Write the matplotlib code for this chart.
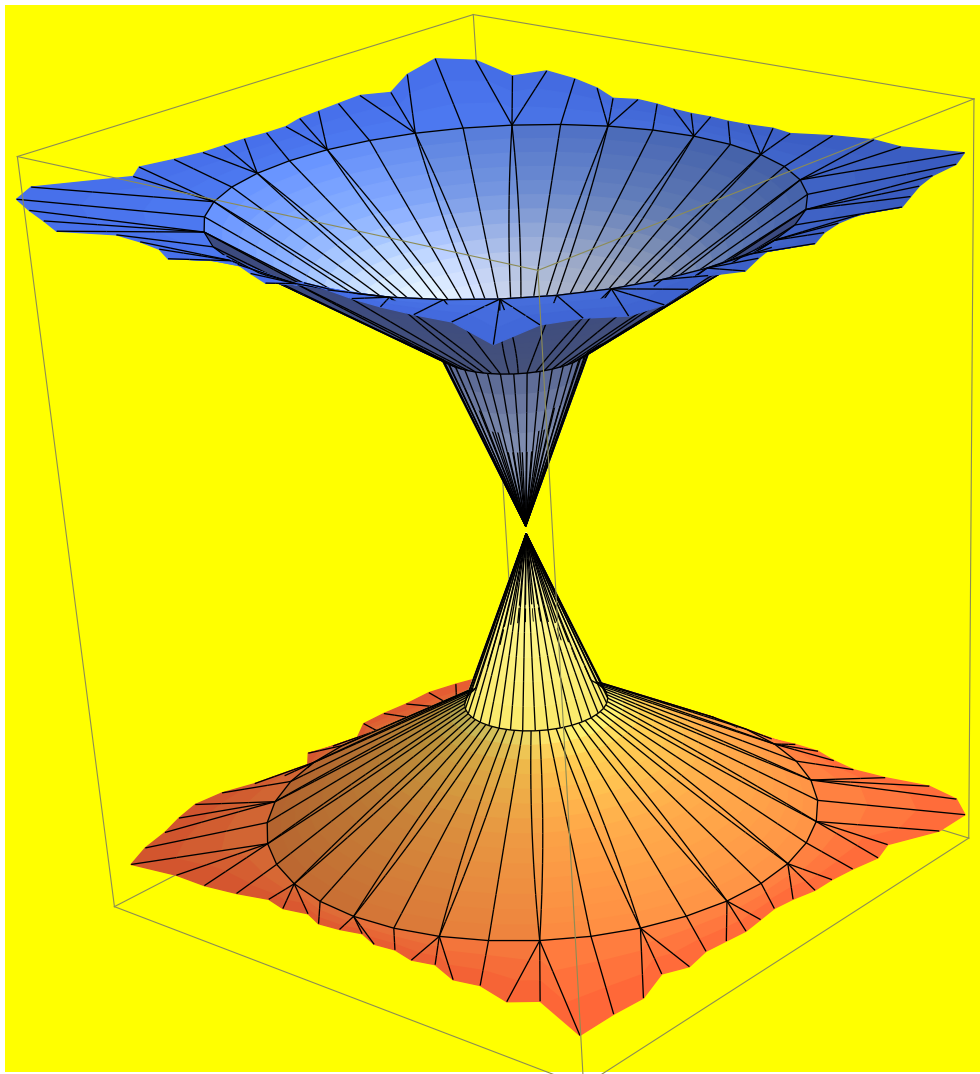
import numpy as np
import matplotlib
matplotlib.use('Agg')
from matplotlib import pyplot as plt
from matplotlib.patches import Rectangle
from mpl_toolkits.mplot3d.art3d import Poly3DCollection

# radii and heights of the rings of each sheet
ring_r = [0.0, 0.23, 0.90]
top_z = [-0.015, 0.45, 0.81]
bot_z = [-0.035, -0.50, -0.82]
top_edge_z = 0.87
bot_edge_z = -0.88

# edge of each sheet as a fraction of the way out to the square, one per 5 degrees from 5
top_edge = [1.11,1.09,1.09,1.15, 1.11,1.07,1.04,1.03, 0.98,0.93,0.95,0.92,
            0.87,0.89,0.88,0.88, 0.89,0.89,0.90,0.92, 0.93,0.90,0.97,1.02,
            1.05,0.94,1.03,1.16, 1.10,0.99,1.05,1.04, 1.03,1.02,0.99,0.99,
            1.00,1.00,1.00,1.02, 1.05,0.99,1.17,1.11, 0.99,1.04,1.09,1.02,
            1.03,1.05,1.10,0.99, 1.03,1.07,1.11,1.05, 1.06,1.08,1.09,1.09,
            1.08,1.16,0.97,1.03, 1.12,1.14,1.11,1.08, 1.14,1.10,1.07,1.15]
bot_edge = [0.96,0.98,0.98,0.99, 1.01,0.98,1.06,1.06, 0.97,1.00,0.97,0.96,
            0.98,1.01,1.01,1.00, 0.99,0.99,1.00,1.00, 1.01,1.02,1.02,1.03,
            1.03,1.01,0.93,1.00, 1.04,1.07,1.07,1.08, 1.08,1.01,1.04,1.07,
            0.99,1.01,1.05,1.09, 1.10,1.07,1.03,1.00, 0.95,0.92,0.92,0.90,
            0.87,0.89,0.87,0.90, 0.89,0.87,0.90,0.89, 0.91,0.89,0.93,0.91,
            0.94,0.88,0.97,0.97, 0.98,0.93,0.97,0.95, 0.96,0.97,0.96,0.95]

# camera, fitted to the corners of the box
elev, azim, roll, focal, zasp = 29.782, -51.18, 1.802, 0.4962, 1.2313
ox, oy, oz = -1.6243, 1.0731, 0.7006

fig = plt.figure(figsize=(9.8, 10.74), dpi=100, facecolor='white')
fig.patches.append(Rectangle((5/980, 2/1074), 975/980, 1067/1074, transform=fig.transFigure, fc='#ffff00', ec='none', zorder=-5))
ax = fig.add_axes([61.4/980, -644.6/1074, 1305.3/980, 1305.3/1074], projection='3d')
ax.view_init(elev=elev, azim=azim, roll=roll)
ax.set_proj_type('persp', focal_length=focal)
ax.set_box_aspect((1, 1, zasp))
ax.set_axis_off()
ax.patch.set_alpha(0)
ax.computed_zorder = False
ax.set_xlim(-1-ox, 1-ox); ax.set_ylim(-1-oy, 1-oy); ax.set_zlim(-1-oz, 1-oz)

# mesh angles
outer_deg = [5 + 5*i for i in range(72)]
ring_deg = [10 + 10*i for i in range(36)]
neck_deg = []
for k in range(18):
    v = 10 + 20*k
    neck_deg += [v - 10/3, v + 10/3, v + 10]

def hex2(c):
    return np.array(matplotlib.colors.to_rgb(c))

def mix(stops, colors, u):
    return np.array([np.interp(u, stops, [hex2(c)[i] for c in colors]) for i in range(3)])

# black lines are pulled a little along the ray to the camera so they sort over the faces
ax.apply_aspect()
eye = np.linalg.inv(ax.get_proj()) @ np.array([0, 0, 1, 0])
eye = eye[:3]/eye[3]

polys = []; faces = []; edges = []

def add_line(a, b):
    polys.append([a + 0.02*(eye-a), b + 0.02*(eye-b), a + 0.02*(eye-a)])
    faces.append((0, 0, 0, 0))
    edges.append((0, 0, 0, 1))

def add_face(pts, col):
    col = np.clip(col, 0, 1)
    polys.append(pts)
    faces.append((*col, 1))
    edges.append((*col, 1))

def pt(r, deg, z):
    t = np.radians(deg)
    return np.array([r*np.cos(t), r*np.sin(t), z])

def sq(deg):
    t = np.radians(deg)
    return 1/max(abs(np.cos(t)), abs(np.sin(t)))

def shade_top(deg):
    return np.clip(1.0 - 0.28*np.cos(np.radians(deg - 60)), 0.6, 1.1)

def shade_bot(deg):
    return np.clip(0.92 + 0.22*np.cos(np.radians(deg - 30)), 0.6, 1.05)

def front(deg):
    return np.cos(np.radians(deg - azim)) > 0.15

def top_colour(part, u, deg):
    if part == 'outer':
        return mix([0, 1], ['#4a74e6', '#4269de'], u)*np.clip(1.0 - 0.14*np.cos(np.radians(deg - 30)), 0.7, 1.05)
    if part == 'funnel':
        if front(deg):
            return mix([0, 1], ['#3b4a80', '#46527a'], u)
        return mix([0, 0.35, 0.7, 1], ['#5c84e8', '#7fa2f0', '#c8d8fc', '#e4ecff'], u)*shade_top(deg)
    return mix([0, 0.6, 1], ['#56638c', '#8592b0', '#5a6480'], u)*np.clip(1.0 + 0.25*np.cos(np.radians(deg + 50)), 0.55, 1.05)

def bot_colour(part, u, deg):
    if part == 'outer':
        return mix([0, 1], ['#ff8040', '#ff6236'], u)*np.clip(0.96 + 0.14*np.cos(np.radians(deg - 30)), 0.7, 1.05)
    if part == 'funnel':
        return mix([0, 0.5, 0.85, 1], ['#ff8c42', '#ffa648', '#ffc850', '#fff074'], u)*shade_bot(deg)
    return mix([0, 0.6, 1], ['#fbe96a', '#fff88c', '#fffbc0'], u)

def sheet(zs, edge_z, edge, colour):
    # apex to neck ring, the lines here run every 10 degrees
    nb = 8
    for b in range(nb):
        u0, u1 = b/nb, (b+1)/nb
        r0, r1 = ring_r[1]*u0, ring_r[1]*u1
        z0, z1 = zs[0] + (zs[1]-zs[0])*u0, zs[0] + (zs[1]-zs[0])*u1
        for j in range(54):
            a0, a1 = neck_deg[j], neck_deg[(j+1) % 54]
            if a1 < a0: a1 += 360
            add_face([pt(r0,a0,z0), pt(r1,a0,z1), pt(r1,a1,z1), pt(r0,a1,z0)],
                     colour('cone', 1-(u0+u1)/2, (a0+a1)/2))
        for d in ring_deg:
            add_line(pt(r0,d,z0), pt(r1,d,z1))
    for j in range(36):
        add_line(pt(ring_r[1],ring_deg[j],zs[1]), pt(ring_r[1],ring_deg[j]+10,zs[1]))
    # neck ring to the big ring, the spokes meet in pairs
    nb = 14
    for j in range(54):
        g = j//3; m = j % 3
        v = 10 + 20*g
        a0, a1 = neck_deg[j], neck_deg[(j+1) % 54]
        if a1 < a0: a1 += 360
        r_a0 = [v, v, v+10][m]
        r_a1 = [v, v+10, v+20][m]
        for b in range(nb):
            u0, u1 = b/nb, (b+1)/nb
            r0 = ring_r[1] + (ring_r[2]-ring_r[1])*u0
            r1 = ring_r[1] + (ring_r[2]-ring_r[1])*u1
            z0 = zs[1] + (zs[2]-zs[1])*u0
            z1 = zs[1] + (zs[2]-zs[1])*u1
            d00 = a0 + (r_a0-a0)*u0; d01 = a0 + (r_a0-a0)*u1
            d10 = a1 + (r_a1-a1)*u0; d11 = a1 + (r_a1-a1)*u1
            add_face([pt(r0,d00,z0), pt(r1,d01,z1), pt(r1,d11,z1), pt(r0,d10,z0)],
                     colour('funnel', 1-(u0+u1)/2, (a0+a1)/2))
            add_line(pt(r0,d00,z0), pt(r1,d01,z1))
    for j in range(36):
        add_line(pt(ring_r[2],ring_deg[j],zs[2]), pt(ring_r[2],ring_deg[j]+10,zs[2]))
    # big ring out to the jagged edge
    nb = 3
    for i in range(72):
        g = i//4; m = i % 4
        v = 10 + 20*g
        a0 = outer_deg[i]; a1 = a0 + 5
        r_a0 = [v, v, v, v+10][m]
        r_a1 = [v, v, v+10, v+20][m]
        e0 = pt(edge[i]*sq(a0), a0, edge_z)
        e1 = pt(edge[(i+1) % 72]*sq(a1), a1, edge_z)
        s0 = pt(ring_r[2], r_a0, zs[2])
        s1 = pt(ring_r[2], r_a1, zs[2])
        for b in range(nb):
            u0, u1 = b/nb, (b+1)/nb
            add_face([s0+(e0-s0)*u0, s0+(e0-s0)*u1, s1+(e1-s1)*u1, s1+(e1-s1)*u0],
                     colour('outer', (u0+u1)/2, a0+2.5))
            add_line(s0+(e0-s0)*u0, s0+(e0-s0)*u1)

sheet(top_z, top_edge_z, top_edge, top_colour)
sheet(bot_z, bot_edge_z, bot_edge, bot_colour)

col = Poly3DCollection(polys, facecolors=faces, edgecolors=edges, linewidths=0.95, zorder=2)
ax.add_collection3d(col, autolim=False)
col.set_clip_on(False)
col.set_joinstyle('round')

# bounding box, edges at the back go behind the surface
box = '#8c8c55'
cor = {'lt': (-1,-1,1), 'ft': (1,-1,1), 'rt': (1,1,1), 'bt': (-1,1,1),
       'lb': (-1,-1,-1), 'fb': (1,-1,-1), 'rb': (1,1,-1), 'bb': (-1,1,-1)}
for a, b, zo in [('lt','bt',1),('bt','rt',1),('bt','bb',1),('lb','bb',1),('bb','rb',1),
                 ('lt','ft',3),('ft','rt',3),('lt','lb',3),('ft','fb',3),('rt','rb',3),('lb','fb',3),('fb','rb',3)]:
    ax.plot(*zip(cor[a], cor[b]), color=box, lw=0.8, zorder=zo, clip_on=False)
ax.set_xlim(-1-ox, 1-ox); ax.set_ylim(-1-oy, 1-oy); ax.set_zlim(-1-oz, 1-oz)

fig.savefig('out.png', dpi=100, facecolor='white')
